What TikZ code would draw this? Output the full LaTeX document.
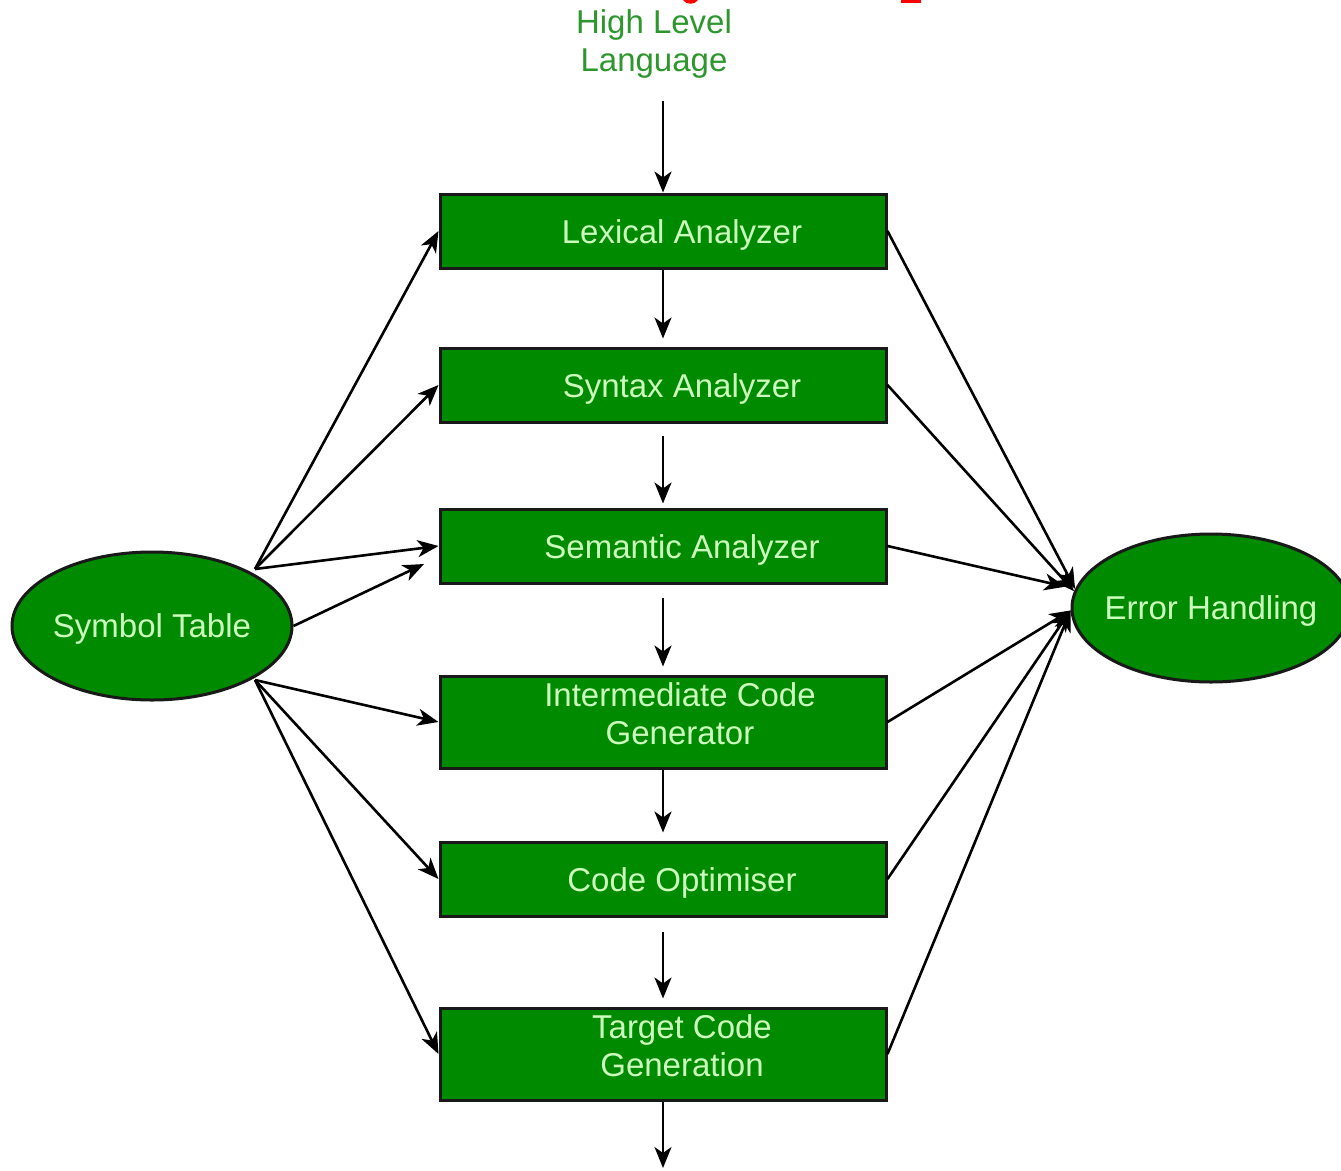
\documentclass[tikz,border=0pt]{standalone}
\usepackage{fontspec}
\setmainfont{Liberation Sans}
\usetikzlibrary{shapes.geometric,arrows.meta}
\definecolor{boxgreen}{RGB}{0,138,0}
\definecolor{txtgreen}{RGB}{204,255,190}
\definecolor{hllgreen}{RGB}{45,150,45}
\begin{document}
\begin{tikzpicture}[x=1pt,y=-1pt,
  font=\fontsize{33}{38}\selectfont,
  stagebox/.style={draw=black!90, line width=3pt, fill=boxgreen, minimum width=446pt, inner sep=0pt},
  onebox/.style={stagebox, minimum height=74pt},
  twobox/.style={stagebox, minimum height=92pt},
  lbl/.style={text=txtgreen, align=center, xshift=19pt, inner sep=0pt},
  lblone/.style={lbl, yshift=-4pt},
  lbltwo/.style={lbl, yshift=8pt},
  oval/.style={ellipse, draw=black!90, line width=3pt, fill=boxgreen, inner sep=0pt},
  ovallbl/.style={text=txtgreen, inner sep=0pt},
  arr/.style={-{Stealth[length=21pt,width=17pt,inset=6pt]}, line width=2.6pt, black}]
\useasboundingbox (0,0) rectangle (1341,1170);
% cut-off title remnants
\fill[red] (683,0) .. controls (686,5) and (695,5) .. (698,0) -- cycle;
\fill[red] (901,0) rectangle (921,3);

\node[text=hllgreen, align=center, inner sep=0pt] (hll) at (654,44) {High Level\\Language};

\node[onebox, label={[lblone]center:Lexical Analyzer}] (lex) at (663,231) {};
\node[onebox, label={[lblone]center:Syntax Analyzer}] (syn) at (663,385) {};
\node[onebox, label={[lblone]center:Semantic Analyzer}] (sem) at (663,546) {};
\node[twobox, label={[lbltwo,xshift=-2pt]center:Intermediate Code\\Generator}] (icg) at (663,722) {};
\node[onebox, label={[lblone]center:Code Optimiser}] (opt) at (663,879) {};
\node[twobox, label={[lbltwo]center:Target Code\\Generation}] (tcg) at (663,1054) {};

\node[oval, minimum width=280pt, minimum height=148pt, label={[ovallbl,yshift=-3pt]center:Symbol Table}] (st) at (152,626) {};
\node[oval, minimum width=278pt, minimum height=148pt, label={[ovallbl,yshift=-3pt]center:Error Handling}] (eh) at (1211,608) {};

\coordinate (out) at (663,1168);
\coordinate (stU) at (255,569);
\coordinate (stL) at (255,680);
\coordinate (semIn) at (424,564);

% main flow
\draw[arr, shorten <=22pt] (hll.south) ++(9,0) coordinate (hs) -- (hs |- lex.north);
\draw[arr, shorten >=8pt] (lex.south) -- (syn.north);
\draw[arr, shorten <=12pt, shorten >=4pt] (syn.south) -- (sem.north);
\draw[arr, shorten <=13pt, shorten >=8pt] (sem.south) -- (icg.north);
\draw[arr, shorten >=8pt] (icg.south) -- (opt.north);
\draw[arr, shorten <=14pt, shorten >=8pt] (opt.south) -- (tcg.north);
\draw[arr] (tcg.south) -- (out);

% symbol table arrows
\draw[arr] (stU) -- (lex.west);
\draw[arr] (stU) -- (syn.west);
\draw[arr] (stU) -- (sem.west);
\draw[arr] (st.east) -- (semIn);
\draw[arr] (stL) -- (icg.west);
\draw[arr] (stL) -- (opt.west);
\draw[arr] (stL) -- (tcg.west);

% error handling arrows
\draw[arr] (lex.east) -- (eh.172);
\draw[arr] (syn.east) -- (eh.173);
\draw[arr, shorten >=10pt] (sem.east) -- (eh.172);
\draw[arr] (icg.east) -- (eh.181);
\draw[arr] (opt.east) -- (eh.181);
\draw[arr] (tcg.east) -- (eh.181);
\end{tikzpicture}
\end{document}
